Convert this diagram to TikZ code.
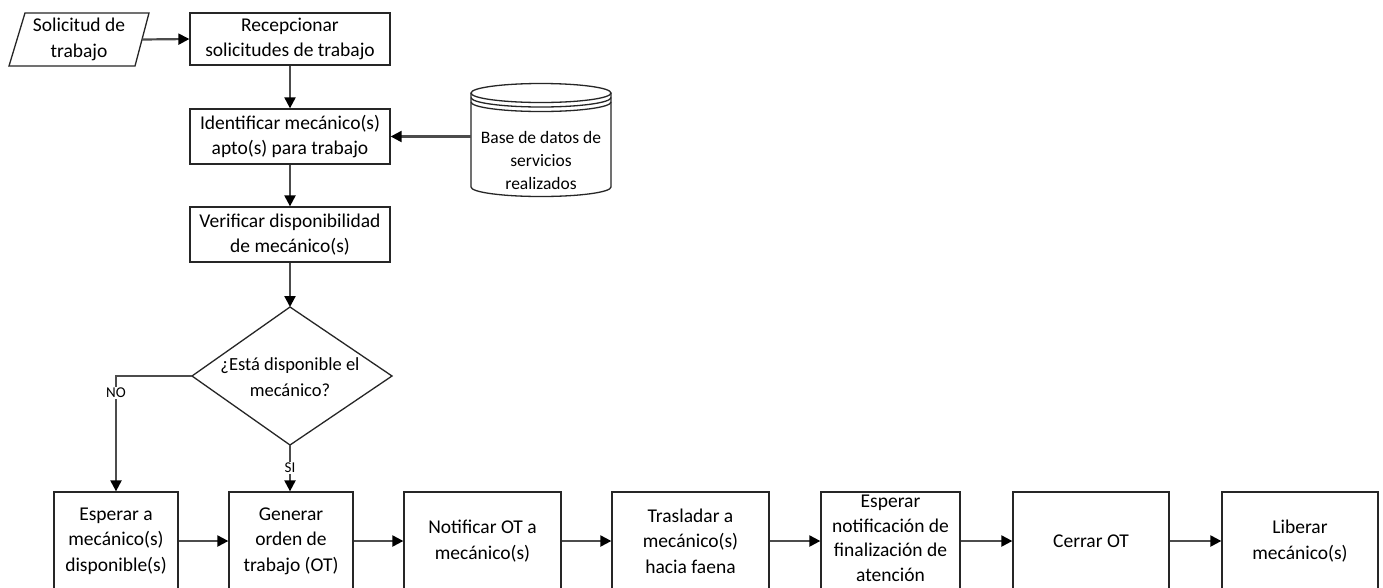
\documentclass[tikz,border=0pt]{standalone}
\usepackage{fontspec}
\setmainfont{Carlito}
\usetikzlibrary{arrows.meta,calc}
\tikzset{
  box/.style={draw=black!85, line width=1.3pt, fill=white, align=center, inner sep=0pt,
    font=\fontsize{19.5}{25.5}\selectfont},
  txt/.style={align=center, inner sep=0pt, font=\fontsize{19.5}{25.5}\selectfont},
  shp/.style={draw=black!85, line width=1.3pt, fill=white},
  arr/.style={draw=black!70, line width=2.2pt, -{Triangle[length=11pt,width=11pt,color=black]}},
  lbl/.style={fill=white, inner sep=1.5pt, font=\fontsize{15}{17}\selectfont}
}
\begin{document}
\begin{tikzpicture}[x=1pt,y=-1pt]
\useasboundingbox (0,0) rectangle (1383,587);
\clip (0,0) rectangle (1383,587);
\fill[white] (0,0) rectangle (1383,587);

% Solicitud (parallelogram)
\draw[shp] (25,13) -- (149,13) -- (135,66) -- (9,66) -- cycle;
\node[txt, minimum width=126pt, minimum height=52pt] (sol) at (79,39.5) {Solicitud de\\trabajo};

% top column
\node[box, minimum width=200pt, minimum height=52pt] (rec) at (290,39) {Recepcionar\\solicitudes de trabajo};
\node[box, minimum width=200pt, minimum height=55pt] (idf) at (290,136.5) {Identificar mecánico(s)\\apto(s) para trabajo};
\node[box, minimum width=200pt, minimum height=55pt] (ver) at (290,234.5) {Verificar disponibilidad\\de mecánico(s)};

% database cylinder
\node[minimum width=140pt, minimum height=114pt, inner sep=0pt] (db) at (541,140) {};
\fill[white] (471,93) -- (471,187) arc[start angle=180,end angle=0,x radius=70,y radius=9.5] -- (611,93) -- cycle;
\draw[shp] (471,93) -- (471,187) arc[start angle=180,end angle=0,x radius=70,y radius=9.5] -- (611,93);
\draw[shp] (541,93) ellipse[x radius=70,y radius=9.5];
\draw[draw=black!85, line width=1.3pt] (471,97.5) arc[start angle=180,end angle=0,x radius=70,y radius=9.5];
\draw[draw=black!85, line width=1.3pt] (471,102) arc[start angle=180,end angle=0,x radius=70,y radius=9.5];
\node[txt, font=\fontsize{17.5}{23}\selectfont] (dbt) at (541,160) {Base de datos de\\servicios\\realizados};

% decision diamond
\coordinate (dtop) at (290,307);
\coordinate (dleft) at (192,376);
\coordinate (dright) at (392,376);
\coordinate (dbot) at (290,445);
\draw[shp] (dtop) -- (dright) -- (dbot) -- (dleft) -- cycle;
\node[txt, font=\fontsize{18.5}{25.5}\selectfont] (dec) at (290,377) {¿Está disponible el\\mecánico?};

% bottom row
\node[box, minimum width=124pt, minimum height=98pt] (esp) at (116,541) {Esperar a\\mecánico(s)\\disponible(s)};
\node[box, minimum width=124pt, minimum height=98pt] (gen) at (291,541) {Generar\\orden de\\trabajo (OT)};
\node[box, minimum width=157pt, minimum height=98pt] (not) at (482.5,541) {Notificar OT a\\mecánico(s)};
\node[box, minimum width=157pt, minimum height=98pt] (tra) at (690.5,541) {Trasladar a\\mecánico(s)\\hacia faena};
\node[box, minimum width=139pt, minimum height=98pt] (enf) at (890.5,541) {};
\node[txt, font=\fontsize{19.5}{24.5}\selectfont] (enft) at (890.5,538.5) {Esperar\\notificación de\\finalización de\\atención};
\node[box, minimum width=156pt, minimum height=98pt] (cer) at (1091,541) {Cerrar OT};
\node[box, minimum width=156pt, minimum height=98pt] (lib) at (1300,541) {Liberar\\mecánico(s)};

% connectors
\draw[arr] (sol.east) -- (rec.west);
\draw[arr] (rec.south) -- (idf.north);
\draw[arr] (db.west |- idf.east) -- (idf.east);
\draw[arr] (idf.south) -- (ver.north);
\draw[arr] (ver.south) -- (dtop);
\draw[arr] (dleft) -- (esp.north |- dleft) -- (esp.north);
\draw[arr] (dbot) -- (dbot |- gen.north);
\node[lbl] (no) at (116,393) {NO};
\node[lbl] (si) at (290,468) {SI};
\draw[arr] (esp.east) -- (gen.west);
\draw[arr] (gen.east) -- (not.west);
\draw[arr] (not.east) -- (tra.west);
\draw[arr] (tra.east) -- (enf.west);
\draw[arr] (enf.east) -- (cer.west);
\draw[arr] (cer.east) -- (lib.west);
\end{tikzpicture}
\end{document}
